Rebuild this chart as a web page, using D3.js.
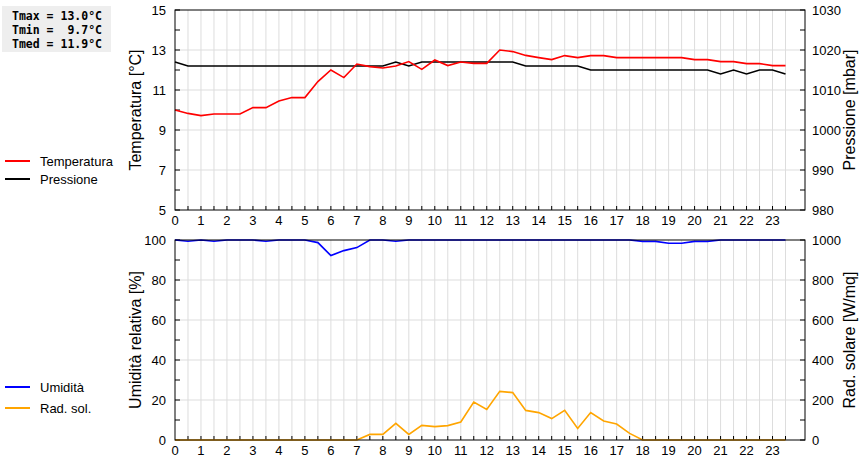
<!DOCTYPE html>
<html><head><meta charset="utf-8">
<script src="https://cdn.jsdelivr.net/npm/d3@7"></script>
<style>body{margin:0;background:#fff}svg{font-family:"Liberation Sans",Arial,sans-serif}</style>
</head><body><svg id="c" width="860" height="460"></svg>
<script>
const hours = d3.range(0, 24, 0.5);
const temperatura = [10.0,9.83,9.72,9.8,9.8,9.8,10.12,10.12,10.45,10.62,10.62,11.42,12.0,11.62,12.3,12.17,
  12.1,12.2,12.42,12.03,12.5,12.22,12.4,12.33,12.33,13.0,12.92,12.73,12.62,12.52,12.72,12.62,
  12.72,12.72,12.62,12.62,12.62,12.62,12.62,12.62,12.52,12.52,12.42,12.42,12.32,12.32,12.22,12.22];
const pressione = [1017,1016,1016,1016,1016,1016,1016,1016,1016,1016,1016,1016,1016,1016,1016,1016,
  1016,1017,1016,1017,1017,1017,1017,1017,1017,1017,1017,1016,1016,1016,1016,1016,
  1015,1015,1015,1015,1015,1015,1015,1015,1015,1015,1014,1015,1014,1015,1015,1014];
const umidita = [100,99.4,100,99.4,100,100,100,99.4,100,100,100,98.7,92.2,94.7,96.2,100,
  100,99.4,100,100,100,100,100,100,100,100,100,100,100,100,100,100,
  100,100,100,100,99.3,99.3,98.4,98.4,99.3,99.3,100,100,100,100,100,100];
const radSol = [0,0,0,0,0,0,0,0,0,0,0,0,0,0,0,28,
  28,83,28,73,67,72,90,190,153,243,237,148,137,107,148,58,
  137,95,80,33,0,0,0,0,0,0,0,0,0,0,0,0];
const hourLabels = d3.range(0, 24);
const stats = ["Tmax = 13.0°C", "Tmin =  9.7°C", "Tmed = 11.9°C"];

const svg = d3.select("#c");
const x = d3.scaleLinear().domain([0, 24.25]).range([175, 805]);

function panel(top, yL, yR, lTicks, rTicks, lMinor, lTitle, rTitle, series) {
  const bottom = top + 200;
  const g = svg.append("g");
  // grid
  g.selectAll(".vg").data(d3.range(0.5, 24, 0.5)).join("line")
    .attr("x1", d => x(d)).attr("x2", d => x(d)).attr("y1", top).attr("y2", bottom)
    .attr("stroke", "#ddd");
  g.selectAll(".hg").data(lTicks.slice(1, -1)).join("line")
    .attr("x1", 175).attr("x2", 805).attr("y1", d => yL(d)).attr("y2", d => yL(d))
    .attr("stroke", "#ddd");
  // ticks inside
  const tk = g.append("g").attr("stroke", "#000");
  tk.selectAll(".lt").data(lMinor).join("line")
    .attr("x1", 175).attr("x2", 180).attr("y1", d => yL(d)).attr("y2", d => yL(d));
  tk.selectAll(".rt").data(lMinor).join("line")
    .attr("x1", 800).attr("x2", 805).attr("y1", d => yL(d)).attr("y2", d => yL(d));
  tk.selectAll(".bt").data(d3.range(0.5, 24, 0.5)).join("line")
    .attr("x1", d => x(d)).attr("x2", d => x(d)).attr("y1", bottom - 4).attr("y2", bottom);
  // labels
  g.selectAll(".ll").data(lTicks).join("text")
    .attr("x", 166).attr("y", d => yL(d) + 5).attr("text-anchor", "end")
    .attr("font-size", 13).text(d => d);
  g.selectAll(".rl").data(rTicks).join("text")
    .attr("x", 812).attr("y", d => yR(d) + 5)
    .attr("font-size", 13).text(d => d);
  g.selectAll(".xl").data(hourLabels).join("text")
    .attr("x", d => x(d)).attr("y", bottom + 15).attr("text-anchor", "middle")
    .attr("font-size", 13).text(d => d);
  g.append("text").attr("transform", `translate(141,${top + 100}) rotate(-90)`)
    .attr("text-anchor", "middle").attr("font-size", 16).text(lTitle);
  g.append("text").attr("transform", `translate(855,${top + 100}) rotate(-90)`)
    .attr("text-anchor", "middle").attr("font-size", 16).text(rTitle);
  series.forEach(s => {
    g.append("path").datum(s.values)
      .attr("fill", "none").attr("stroke", s.color).attr("stroke-width", 1.6)
      .attr("d", d3.line().x((d, i) => x(hours[i])).y(d => s.y(d)));
  });
  g.append("rect").attr("x", 175).attr("y", top).attr("width", 630).attr("height", 200)
    .attr("fill", "none").attr("stroke", "#000");
}

const yT = d3.scaleLinear().domain([5, 15]).range([210, 10]);
const yP = d3.scaleLinear().domain([980, 1030]).range([210, 10]);
panel(10, yT, yP, [5, 7, 9, 11, 13, 15], d3.range(980, 1031, 10), d3.range(5, 16),
  "Temperatura [°C]", "Pressione [mbar]",
  [{values: pressione, y: yP, color: "#000"}, {values: temperatura, y: yT, color: "#f00"}]);

const yU = d3.scaleLinear().domain([0, 100]).range([440, 240]);
const yR = d3.scaleLinear().domain([0, 1000]).range([440, 240]);
panel(240, yU, yR, d3.range(0, 101, 20), d3.range(0, 1001, 200), d3.range(0, 101, 10),
  "Umidità relativa [%]", "Rad. solare [W/mq]",
  [{values: umidita, y: yU, color: "#00f"}, {values: radSol, y: yR, color: "#ffa500"}]);

// stats box
svg.append("rect").attr("x", 2).attr("y", 6).attr("width", 109).attr("height", 46).attr("fill", "#eee");
svg.selectAll(".st").data(stats).join("text")
  .attr("x", 12).attr("y", (d, i) => 20 + i * 14)
  .attr("font-family", "DejaVu Sans Mono").attr("font-weight", "bold").attr("font-size", 11.5)
  .attr("xml:space", "preserve").style("white-space", "pre").text(d => d);

// legends
const legend = [
  {label: "Temperatura", color: "#f00", y: 161},
  {label: "Pressione", color: "#000", y: 179},
  {label: "Umidità", color: "#00f", y: 387},
  {label: "Rad. sol.", color: "#ffa500", y: 408}
];
svg.selectAll(".lgl").data(legend).join("line")
  .attr("x1", 5).attr("x2", 30).attr("y1", d => d.y).attr("y2", d => d.y)
  .attr("stroke", d => d.color).attr("stroke-width", 2);
svg.selectAll(".lgt").data(legend).join("text")
  .attr("x", 40).attr("y", d => d.y + 5).attr("font-size", 13).text(d => d.label);
</script></body></html>
